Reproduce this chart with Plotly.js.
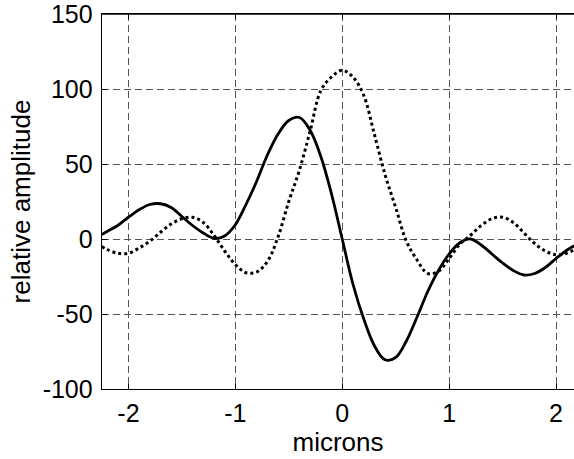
<!DOCTYPE html>
<html>
<head>
<meta charset="utf-8">
<script src="https://cdn.plot.ly/plotly-3.0.1.min.js"></script>
<style>html,body{margin:0;padding:0;background:#fff;}#chart{width:574px;height:459px;}</style>
</head>
<body>
<div id="chart"></div>
<script>
// Solid curve
const solidX = [-2.25,-2.2,-2.1,-2.0,-1.9,-1.8,-1.7,-1.6,-1.5,-1.4,-1.3,-1.2,-1.1,-1.0,-0.9,-0.8,-0.7,-0.6,-0.5,-0.4,-0.3,-0.2,-0.1,0.0,0.1,0.2,0.3,0.4,0.5,0.6,0.7,0.8,0.9,1.0,1.1,1.2,1.3,1.4,1.5,1.6,1.7,1.8,1.9,2.0,2.1,2.17];
const solidY = [3,5,9,14.5,19.5,23,23.5,21,15,9,4,0.5,2,9.5,23,38.5,56,70,79,81,72.5,55,30,0,-30,-53,-71,-80.5,-79,-68,-52,-35,-21,-10,-2.5,0,-4,-10,-16,-21,-24,-23,-19,-13,-7.5,-4.5];

// Dotted curve
const dotX = [-2.25,-2.2,-2.1,-2.0,-1.9,-1.8,-1.7,-1.6,-1.5,-1.4,-1.3,-1.2,-1.1,-1.0,-0.9,-0.8,-0.7,-0.6,-0.5,-0.4,-0.3,-0.2,-0.1,0.0,0.1,0.2,0.3,0.4,0.5,0.6,0.7,0.8,0.9,1.0,1.1,1.2,1.3,1.4,1.5,1.6,1.7,1.8,1.9,2.0,2.1,2.17];
const dotY = [-5,-7,-9.5,-9.5,-6,-1.5,4.5,10,13.5,14.5,11,2.5,-8,-17,-22.5,-22,-15,1.5,25,46,72,99,108,112.5,108,96,70,43,21,-1.5,-14,-23,-21.5,-13,-3.5,2.5,9,13.5,14.5,11,4,-3,-8,-10.5,-9.5,-7];

const xTicks = [-2,-1,0,1,2];
const yTicks = [-100,-50,0,50,100,150];

const font = {family: '"Liberation Sans", Arial, sans-serif', size: 26, color: '#000'};
const tickFont = {family: '"Liberation Sans", Arial, sans-serif', size: 25, color: '#000'};

const traces = [
  {x: solidX, y: solidY, mode: 'lines', line: {color: '#000', width: 2.8, shape: 'spline', smoothing: 1}, hoverinfo: 'skip'},
  {x: dotX, y: dotY, mode: 'lines', line: {color: '#000', width: 3, dash: 'dot', shape: 'spline', smoothing: 1}, hoverinfo: 'skip'}
];

const layout = {
  width: 574, height: 459,
  margin: {l: 102, r: 0, t: 14, b: 70},
  paper_bgcolor: '#fff', plot_bgcolor: '#fff',
  showlegend: false,
  font: font,
  xaxis: {
    range: [-2.247, 2.168],
    tickvals: xTicks, ticktext: xTicks.map(String),
    ticks: 'inside', ticklen: 5, tickcolor: '#000', tickwidth: 1,
    showline: true, linecolor: '#000', linewidth: 1.3, mirror: 'ticks',
    showgrid: true, gridcolor: '#555', gridwidth: 1, griddash: '7px,4px',
    zeroline: false,
    tickfont: tickFont,
    ticklabelstandoff: 2,
    ticklabeloverflow: 'allow',
    title: {text: 'microns', font: font, standoff: 0}
  },
  yaxis: {
    range: [-100, 150],
    tickvals: yTicks, ticktext: yTicks.map(String),
    ticks: 'inside', ticklen: 5, tickcolor: '#000', tickwidth: 1,
    showline: true, linecolor: '#000', linewidth: 1.3, mirror: false,
    showgrid: true, gridcolor: '#555', gridwidth: 1, griddash: '7px,4px',
    zeroline: false,
    tickfont: tickFont,
    ticklabelstandoff: 3,
    ticklabeloverflow: 'allow',
    title: {text: 'relative amplitude', font: font, standoff: 4}
  },
  shapes: [
    {type: 'line', xref: 'paper', yref: 'paper', x0: 0, x1: 1, y0: 1, y1: 1, line: {color: '#000', width: 1.3}}
  ]
};

Plotly.newPlot('chart', traces, layout, {staticPlot: true, displayModeBar: false});
</script>
</body>
</html>
